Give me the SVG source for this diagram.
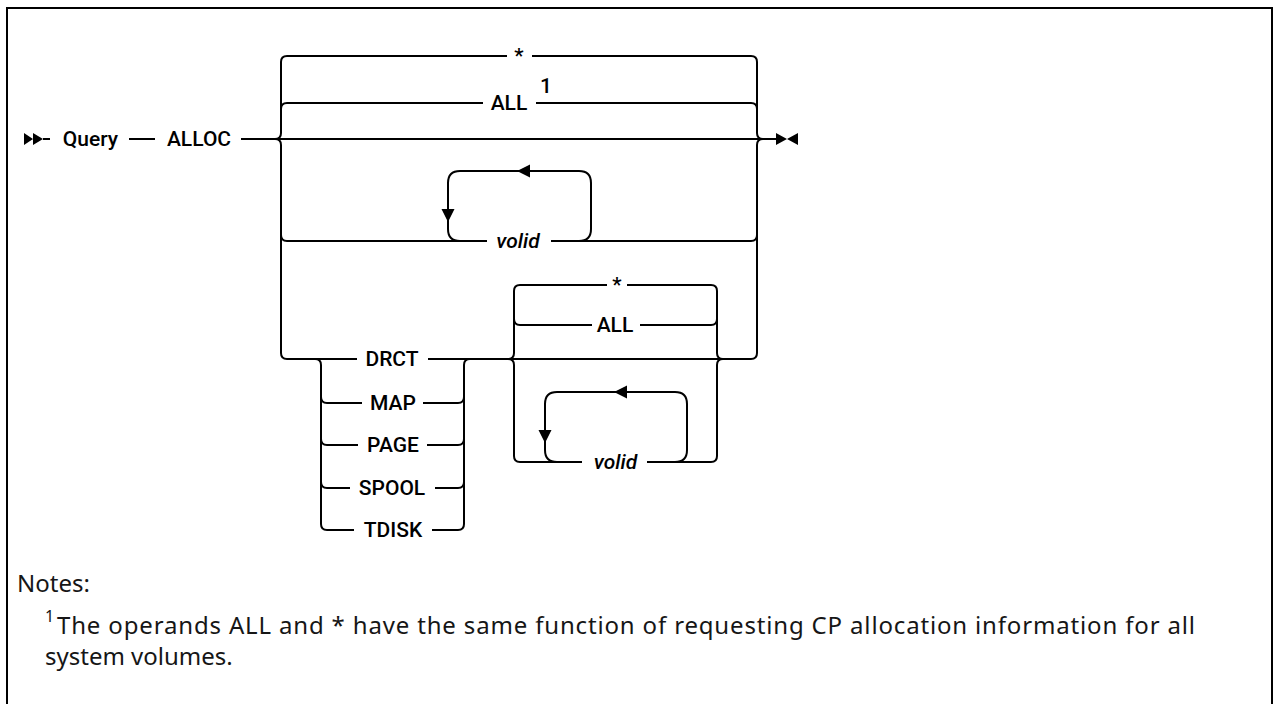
<svg xmlns="http://www.w3.org/2000/svg" width="1274" height="704" viewBox="0 0 1274 704">
<style>
.ln{fill:none;stroke:#000;stroke-width:2}
.ar{fill:#000;stroke:none}
.lb{font-family:Roboto,"Liberation Sans",sans-serif;font-size:21px;font-weight:500;text-anchor:middle;fill:#000}
.it{font-style:italic}
.nt{font-family:"Noto Sans","Liberation Sans",sans-serif;font-size:24px;fill:#161616}
.sup{font-family:"Noto Sans","Liberation Sans",sans-serif;font-size:16px;fill:#161616}
</style>
<rect width="1274" height="704" fill="#fff"/>
<path class="ln" d="M7,704 V8 H1272 V704"/>
<g id="connectors">
<path class="ln" d="M43,139 H50 M129,139 H155 M241,139 H776"/>
<path class="ln" d="M275,139 Q281,139 281,133 V62 Q281,56 287,56 H507 M532,56 H751 Q757,56 757,62 V133 Q757,139 763,139"/>
<path class="ln" d="M281,109 Q281,103 287,103 H483 M536,103 H751 Q757,103 757,109"/>
<path class="ln" d="M275,139 Q281,139 281,145 V353 Q281,359 287,359 H357 M428,359 H751 Q757,359 757,353 V145 Q757,139 763,139"/>
<path class="ln" d="M281,235 Q281,241 287,241 H487 M551,241 H751 Q757,241 757,235"/>
<path class="ln" d="M460,241 Q448,241 448,229 V183 Q448,171 460,171 H579 Q591,171 591,183 V229 Q591,241 579,241"/>
<path class="ar" d="M517,171 L530,164.5 L530,177.5 Z M441.5,209 L454.5,209 L448,222 Z"/>
<path class="ln" d="M315,359 Q321,359 321,365 V524 Q321,530 327,530 H354 M432,530 H458 Q464,530 464,524 V365 Q464,359 470,359"/>
<path class="ln" d="M321,397 Q321,403 327,403 H362 M423,403 H458 Q464,403 464,397"/>
<path class="ln" d="M321,439 Q321,445 327,445 H358 M427,445 H458 Q464,445 464,439"/>
<path class="ln" d="M321,482 Q321,488 327,488 H350 M435,488 H458 Q464,488 464,482"/>
<path class="ln" d="M508,359 Q514,359 514,353 V291 Q514,285 520,285 H607 M627,285 H711 Q717,285 717,291 V353 Q717,359 723,359"/>
<path class="ln" d="M514,319 Q514,325 520,325 H592 M640,325 H711 Q717,325 717,319"/>
<path class="ln" d="M508,359 Q514,359 514,365 V456 Q514,462 520,462 H582 M647,462 H711 Q717,462 717,456 V365 Q717,359 723,359"/>
<path class="ln" d="M557,462 Q545,462 545,450 V404 Q545,392 557,392 H675 Q687,392 687,404 V450 Q687,462 675,462"/>
<path class="ar" d="M614,392 L627,385.5 L627,398.5 Z M538.5,430 L551.5,430 L545,443 Z"/>
<path class="ar" d="M24,133 L33,139 L24,145 Z M33,133 L43,139 L33,145 Z"/>
<path class="ar" d="M776,133 L787,139 L776,145 Z M798,133 L787,139 L798,145 Z"/>
</g>
<g id="n-query"><text class="lb" x="90.5" y="146">Query</text></g>
<g id="n-alloc"><text class="lb" x="199" y="146">ALLOC</text></g>
<g id="n-star1"><text class="lb" x="519" y="63">*</text></g>
<g id="n-all1"><text class="lb" x="509" y="110">ALL</text><text class="lb" x="546" y="93">1</text></g>
<g id="n-volid1"><text class="lb it" x="518" y="248">volid</text></g>
<g id="n-drct"><text class="lb" x="392" y="366">DRCT</text></g>
<g id="n-map"><text class="lb" x="393" y="410">MAP</text></g>
<g id="n-page"><text class="lb" x="393" y="452">PAGE</text></g>
<g id="n-spool"><text class="lb" x="392" y="495">SPOOL</text></g>
<g id="n-tdisk"><text class="lb" x="393" y="537">TDISK</text></g>
<g id="n-star2"><text class="lb" x="617" y="292">*</text></g>
<g id="n-all2"><text class="lb" x="615" y="332">ALL</text></g>
<g id="n-volid2"><text class="lb it" x="615.5" y="469">volid</text></g>
<g id="notes">
<text class="nt" x="17" y="592">Notes:</text>
<text class="sup" x="45" y="622">1</text>
<text class="nt" x="57" y="634" textLength="1138" lengthAdjust="spacing">The operands ALL and * have the same function of requesting CP allocation information for all</text>
<text class="nt" x="45" y="665">system volumes.</text>
</g>
</svg>
